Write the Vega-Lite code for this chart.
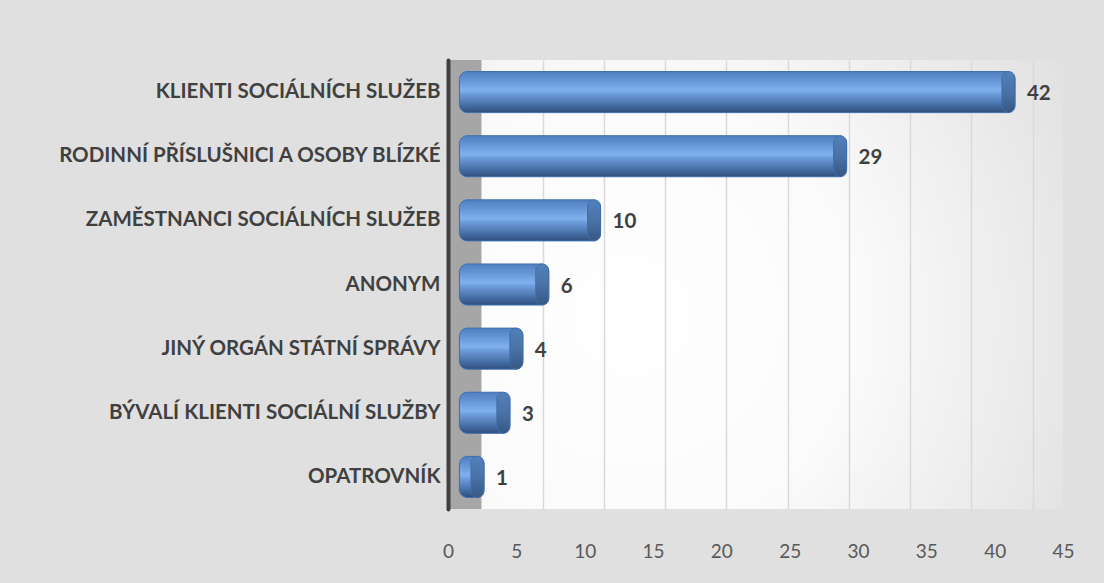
{
  "$schema": "https://vega.github.io/schema/vega-lite/v6.json",
  "autosize": "none",
  "padding": {"left": 448, "top": 60, "right": 41, "bottom": 74},
  "width": 615,
  "height": 449,
  "background": "#e0e0e0",
  "config": {
    "font": "Lato",
    "view": {
      "stroke": null,
      "fill": {
        "gradient": "radial",
        "x1": 0.3, "y1": 0.55, "r1": 0,
        "x2": 0.3, "y2": 0.55, "r2": 0.9,
        "stops": [
          {"offset": 0, "color": "#ffffff"},
          {"offset": 0.4, "color": "#fbfbfb"},
          {"offset": 1, "color": "#dcdcdc"}
        ]
      }
    }
  },
  "resolve": {"scale": {"x": "independent"}, "axis": {"x": "independent"}},
  "layer": [
    {
      "data": {"values": [{"wall": "left"}]},
      "mark": {"type": "rect", "fill": "#a6a6a6"},
      "encoding": {
        "x": {
          "datum": -2.73,
          "type": "quantitative",
          "scale": {"domain": [-2.73, 47.47], "nice": false, "zero": false},
          "axis": {
            "orient": "top",
            "values": [5, 10, 15, 20, 25, 30, 35, 40, 45],
            "grid": true,
            "gridColor": "#d9d9d9",
            "gridWidth": 1.5,
            "labels": false,
            "ticks": false,
            "domain": false,
            "title": null
          }
        },
        "x2": {"datum": 0}
      }
    },
    {
      "data": {"values": [{"axis": "front"}]},
      "mark": {"type": "rule", "opacity": 0},
      "encoding": {
        "x": {
          "datum": 0,
          "type": "quantitative",
          "scale": {"domain": [0, 45], "nice": false},
          "axis": {
            "orient": "bottom",
            "values": [0, 5, 10, 15, 20, 25, 30, 35, 40, 45],
            "grid": false,
            "ticks": false,
            "domain": false,
            "offset": 29,
            "labelPadding": 4,
            "labelFont": "Lato",
            "labelFontSize": 19,
            "labelColor": "#595959",
            "labelFlush": false,
            "title": null
          }
        }
      }
    },
    {
      "data": {
        "values": [
          {"kategorie": "KLIENTI SOCIÁLNÍCH SLUŽEB", "pocet": 42},
          {"kategorie": "RODINNÍ PŘÍSLUŠNICI A OSOBY BLÍZKÉ", "pocet": 29},
          {"kategorie": "ZAMĚSTNANCI SOCIÁLNÍCH SLUŽEB", "pocet": 10},
          {"kategorie": "ANONYM", "pocet": 6},
          {"kategorie": "JINÝ ORGÁN STÁTNÍ SPRÁVY", "pocet": 4},
          {"kategorie": "BÝVALÍ KLIENTI SOCIÁLNÍ SLUŽBY", "pocet": 3},
          {"kategorie": "OPATROVNÍK", "pocet": 1}
        ]
      },
      "encoding": {
        "y": {
          "field": "kategorie",
          "type": "nominal",
          "sort": null,
          "scale": {"paddingInner": 0.36, "paddingOuter": 0.18},
          "axis": {
            "title": null,
            "ticks": false,
            "domain": true,
            "domainColor": "#404040",
            "domainWidth": 4,
            "domainCap": "round",
            "zindex": 2,
            "labelPadding": 8,
            "labelFont": "Lato",
            "labelFontSize": 20.5,
            "labelFontWeight": "bold",
            "labelColor": "#404040",
            "labelLimit": 440
          }
        },
        "x": {
          "field": "pocet",
          "type": "quantitative",
          "scale": {"domain": [-1.78, 45.71], "nice": false, "zero": false},
          "axis": null
        }
      },
      "layer": [
        {
          "mark": {
            "type": "bar",
            "cornerRadius": 8,
            "stroke": "#3f6fae",
            "strokeWidth": 1,
            "fill": {
              "gradient": "linear",
              "x1": 0, "y1": 0, "x2": 0, "y2": 1,
              "stops": [
                {"offset": 0, "color": "#4f7fbf"},
                {"offset": 0.2, "color": "#6393d3"},
                {"offset": 0.45, "color": "#80b1ee"},
                {"offset": 0.55, "color": "#6c9bd9"},
                {"offset": 0.85, "color": "#41699f"},
                {"offset": 1, "color": "#2f4f7d"}
              ]
            }
          },
          "encoding": {"x2": {"datum": -0.9}}
        },
        {
          "mark": {
            "type": "tick",
            "orient": "vertical",
            "thickness": 13,
            "size": 41,
            "cornerRadius": 6.5,
            "xOffset": -6.5,
            "stroke": "#3f6fae",
            "strokeWidth": 1,
            "opacity": 1,
            "fill": {
              "gradient": "linear",
              "x1": 0, "y1": 0, "x2": 0, "y2": 1,
              "stops": [
                {"offset": 0, "color": "#5280bb"},
                {"offset": 0.5, "color": "#4a72a6"},
                {"offset": 1, "color": "#365884"}
              ]
            }
          }
        },
        {
          "mark": {
            "type": "text",
            "align": "left",
            "baseline": "middle",
            "dx": 12,
            "dy": 2,
            "font": "Lato",
            "fontSize": 20.5,
            "fontWeight": "bold",
            "fill": "#404040"
          },
          "encoding": {"text": {"field": "pocet", "type": "quantitative"}}
        }
      ]
    }
  ]
}
